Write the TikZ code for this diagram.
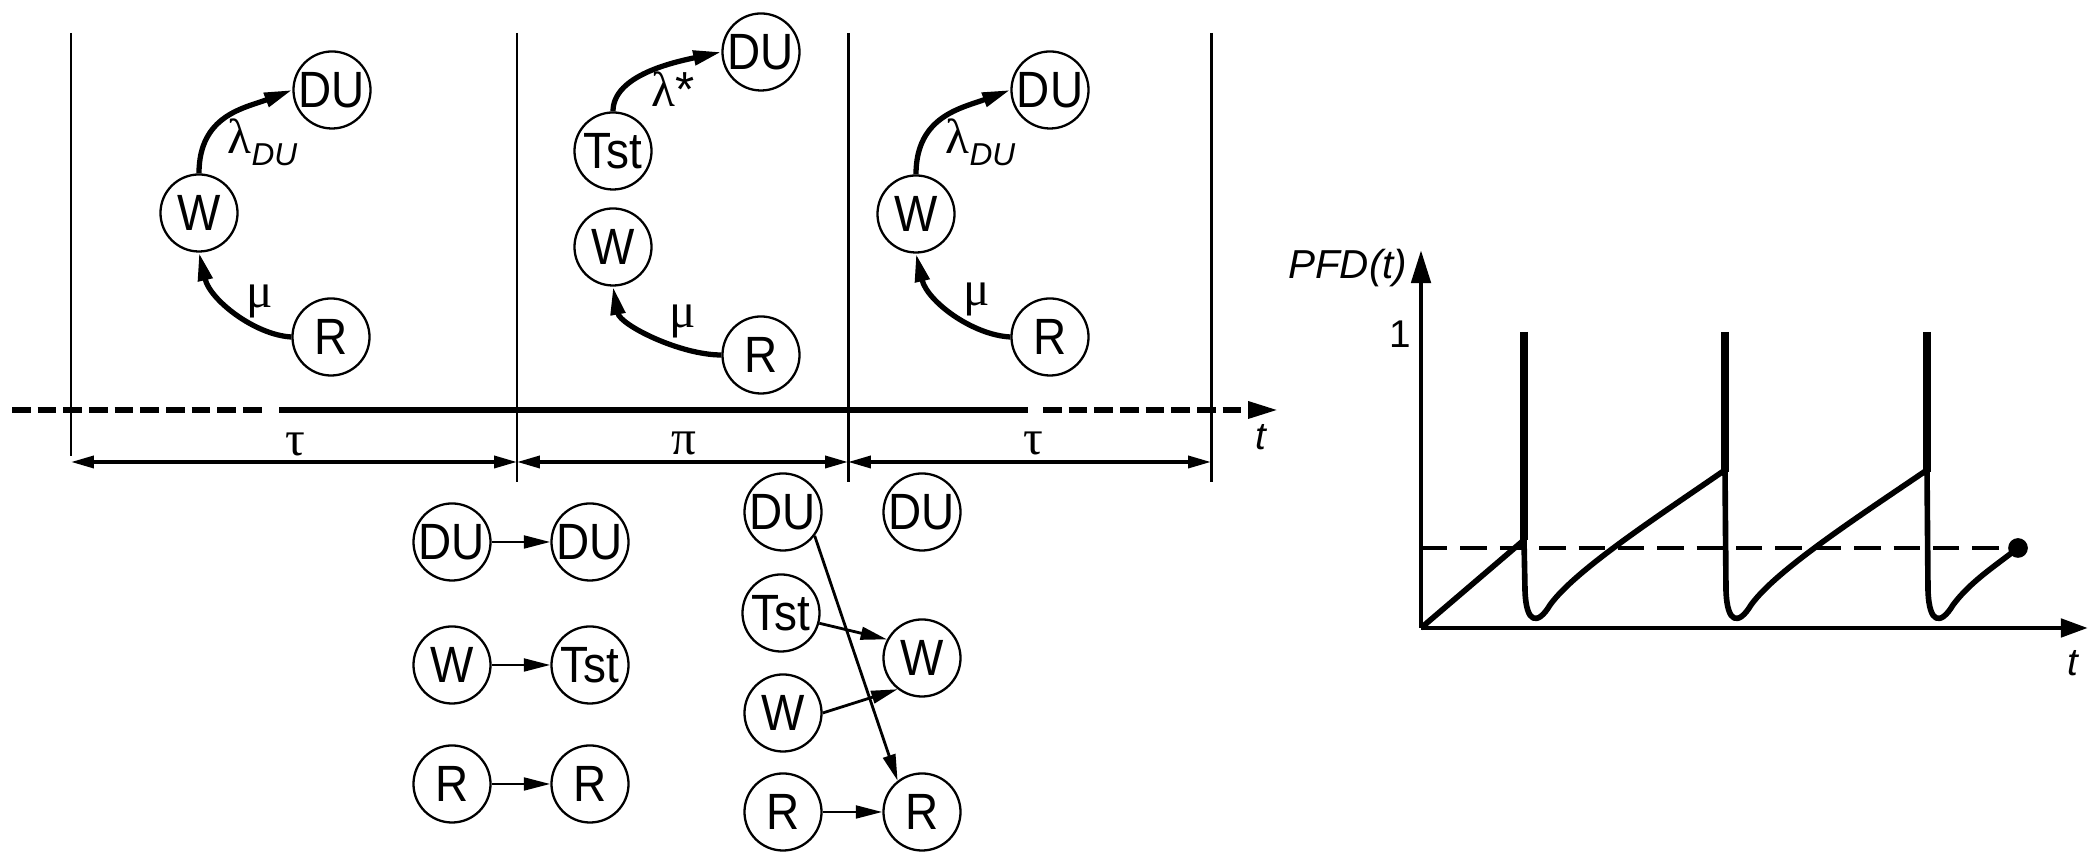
\documentclass[tikz,border=0pt]{standalone}
\usepackage{fontspec}
\setmainfont{Liberation Sans}
\newfontfamily\cfont{Liberation Sans}[FakeStretch=0.9]
\newfontfamily\gfont{Liberation Serif}
\usetikzlibrary{arrows.meta}
\tikzset{
  st/.style={circle,draw,line width=0.65pt,minimum size=0.77cm,inner sep=0pt,font=\cfont\fontsize{14.5}{14.5}\selectfont},
  bnd/.style={line width=0.85pt},
  tsolid/.style={line width=1.7pt},
  tdash/.style={line width=1.6pt,dash pattern=on 5.3pt off 2pt},
  dimarr/.style={line width=1pt,{Triangle[length=6.5pt,width=3.4pt]}-{Triangle[length=6.5pt,width=3.4pt]}},
  trans/.style={line width=1.5pt,-{Triangle[length=8pt,width=4pt]}},
  move/.style={line width=0.8pt,-{Triangle[length=7.5pt,width=3.6pt]}},
  grk/.style={font=\gfont\fontsize{14}{16}\selectfont,inner sep=0pt},
  lab/.style={font=\fontsize{11}{12}\selectfont\itshape,inner sep=0pt},
  axis/.style={line width=1.4pt},
  curve/.style={line width=1.6pt,line join=round},
  spike/.style={line width=2.3pt},
  thr/.style={line width=1.4pt,dash pattern=on 7.5pt off 3.7pt},
}
\newcommand{\subDU}{\raisebox{-3.4pt}{\rmfamily\itshape\fontsize{9}{10}\selectfont DU}}
\begin{document}
\begin{tikzpicture}[x=0.01cm,y=-0.01cm]
\useasboundingbox (0,0) rectangle (2099,865);

% ---- boundaries
\coordinate (b1t) at (71,33);   \coordinate (b1b) at (71,456);
\coordinate (b2t) at (517,33);  \coordinate (b2b) at (517,482);
\coordinate (b3t) at (848,33);  \coordinate (b3b) at (848,482);
\coordinate (b4t) at (1211,33); \coordinate (b4b) at (1211,482);
\draw[bnd] (b1t) -- (b1b);
\draw[bnd] (b2t) -- (b2b);
\draw[bnd] (b3t) -- (b3b);
\draw[bnd] (b4t) -- (b4b);

% ---- time line
\coordinate (tl0) at (12,410);
\coordinate (tl0e) at (268,410);
\coordinate (tl1) at (279,410);
\coordinate (tl2) at (1028,410);
\coordinate (tl2s) at (1043,410);
\coordinate (tl3) at (1278,410);
\draw[tdash] (tl0) -- (tl0e);
\draw[tsolid] (tl1) -- (tl2);
\draw[tdash,-{Triangle[length=8.5pt,width=4.6pt]}] (tl2s) -- (tl3);
\node[lab] (tlab) at (1261,437) {t};

% ---- dimensions
\coordinate (d1) at (71,462);
\coordinate (d2) at (517,462);
\coordinate (d3) at (848,462);
\coordinate (d4) at (1211,462);
\draw[dimarr] (d1) -- (d2);
\draw[dimarr] (d2) -- (d3);
\draw[dimarr] (d3) -- (d4);
\node[grk] (tau1) at (295,444) {τ};
\node[grk] (pi1) at (684,443) {π};
\node[grk] (tau2) at (1033,443) {τ};

% ---- panel 1
\node[st] (du1) at (332,90) {DU};
\node[st] (w1) at (199,213) {W};
\node[st] (r1) at (331,337) {R};
\draw[trans] (w1.north) .. controls (199,115) and (245,108) .. (du1.west);
\draw[trans] (r1.west) .. controls (255,335) and (210,300) .. (w1.south);
\node[grk,anchor=base west] (l1) at (227,154) {λ\subDU};
\node[grk] (m1) at (260,301) {μ};

% ---- panel 2
\node[st] (du2) at (761,52) {DU};
\node[st] (tst2) at (613,151) {Tst};
\node[st] (w2) at (613,247) {W};
\node[st] (r2) at (761,355) {R};
\draw[trans] (tst2.north) .. controls (613,75) and (675,62) .. (du2.west);
\draw[trans] (r2.west) .. controls (680,355) and (620,325) .. (w2.south);
\node[grk,anchor=base west] (l2) at (651,107) {λ{\rmfamily *}};
\node[grk] (m2) at (683,321) {μ};

% ---- panel 3
\node[st] (du3) at (1050,90) {DU};
\node[st] (w3) at (916,214) {W};
\node[st] (r3) at (1050,337) {R};
\draw[trans] (w3.north) .. controls (916,116) and (962,108) .. (du3.west);
\draw[trans] (r3.west) .. controls (972,335) and (927,301) .. (w3.south);
\node[grk,anchor=base west] (l3) at (945,154) {λ\subDU};
\node[grk] (m3) at (977,299) {μ};

% ---- bottom left group
\node[st] (a1) at (452,542) {DU};
\node[st] (a2) at (590,542) {DU};
\node[st] (b1) at (452,665) {W};
\node[st] (b2) at (590,665) {Tst};
\node[st] (c1) at (452,784) {R};
\node[st] (c2) at (590,784) {R};
\draw[move] (a1) -- (a2);
\draw[move] (b1) -- (b2);
\draw[move] (c1) -- (c2);

% ---- bottom right group
\node[st] (e1) at (783,512) {DU};
\node[st] (e2) at (922,512) {DU};
\node[st] (f1) at (781,613) {Tst};
\node[st] (g2) at (922,658) {W};
\node[st] (g1) at (783,713) {W};
\node[st] (h1) at (783,812) {R};
\node[st] (h2) at (922,812) {R};
\draw[move] (e1.-37) -- (h2.128);
\draw[move] (f1.-15) -- (g2.152);
\draw[move] (g1.east) -- (g2.-128);
\draw[move] (h1.east) -- (h2.west);

% ---- PFD graph
\coordinate (O) at (1421,628);
\coordinate (ytip) at (1421,250);
\coordinate (xtip) at (2088,628);
\draw[axis,-{Triangle[length=9.4pt,width=5.4pt]}] (O) -- (ytip);
\draw[axis,-{Triangle[length=7.7pt,width=5.1pt]}] (O) -- (xtip);
\node[lab,font=\fontsize{11.5}{12}\selectfont\itshape,anchor=east] (pfd) at (1408,268) {PFD(t)};
\node[inner sep=0pt,font=\fontsize{11}{12}\selectfont] (one) at (1400,334) {1};
\node[lab] (tx) at (2073,663) {t};
\node[circle,fill,inner sep=0pt,minimum size=5.6pt] (dot) at (2018,548) {};
\draw[thr] (1421,548) -- (dot.center);
\draw[spike] (1524,332) -- (1524,540);
\draw[spike] (1725,332) -- (1725,472);
\draw[spike] (1927,332) -- (1927,472);
\draw[curve] (O) -- (1524,540) -- (1525,590)
  .. controls (1526,625) and (1538,625) .. (1550,605)
  .. controls (1575,570) and (1660,515) .. (1725,470)
  -- (1726,590)
  .. controls (1727,625) and (1739,625) .. (1751,605)
  .. controls (1776,570) and (1861,515) .. (1927,470)
  -- (1928,590)
  .. controls (1929,625) and (1941,625) .. (1953,605)
  .. controls (1970,582) and (1995,566) .. (dot.center);
\end{tikzpicture}
\end{document}
